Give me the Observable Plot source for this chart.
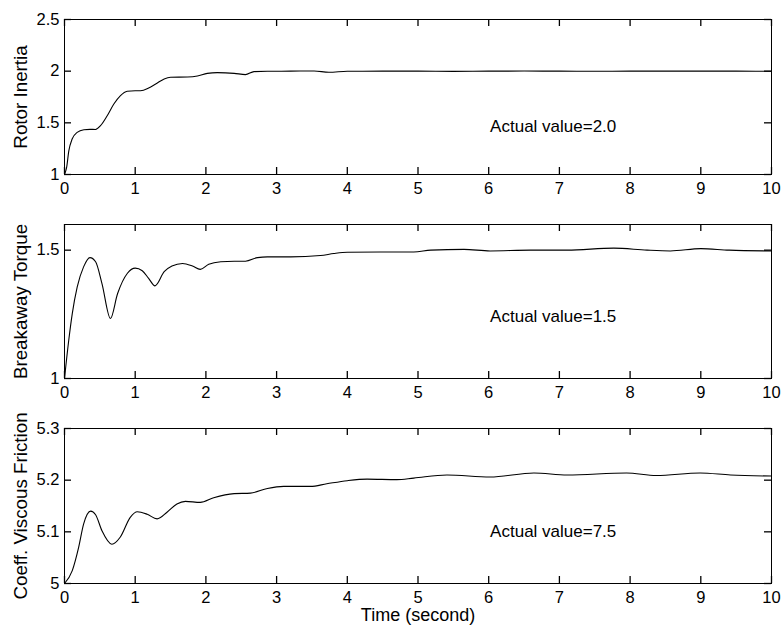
<!DOCTYPE html>
<html>
<head>
<meta charset="utf-8">
<script src="https://cdn.jsdelivr.net/npm/d3@7"></script>
<script src="https://cdn.jsdelivr.net/npm/@observablehq/plot@0.6"></script>
<style>
  html, body { margin: 0; padding: 0; background: #fff; }
  #chart svg { display: block; }
</style>
</head>
<body>
<div id="chart"></div>
<script>
// ---- Data ----
const xTicks = [0, 1, 2, 3, 4, 5, 6, 7, 8, 9, 10];

// Panel 1: Rotor Inertia
const t1 = [0, 0.03, 0.061, 0.108, 0.179, 0.274, 0.36, 0.439, 0.509, 0.604, 0.698, 0.792, 0.887, 1.0, 1.075, 1.19, 1.29, 1.41, 1.5, 1.74, 1.88, 2.02, 2.16, 2.4, 2.56, 2.68, 2.87, 3.2, 3.53, 3.74, 4.0, 4.5, 5.0, 5.5, 6.0, 6.5, 7.0, 7.5, 8.0, 8.5, 9.0, 9.5, 10];
const v1 = [1.0, 1.068, 1.229, 1.343, 1.407, 1.433, 1.437, 1.436, 1.472, 1.569, 1.682, 1.763, 1.805, 1.811, 1.811, 1.837, 1.876, 1.925, 1.941, 1.944, 1.954, 1.979, 1.986, 1.979, 1.967, 1.996, 1.999, 2.0, 2.002, 1.989, 1.999, 2.0, 2.0, 1.998, 2.0, 2.001, 2.0, 1.999, 2.0, 2.0, 2.0, 2.0, 1.999];
const yTicks1 = [1, 1.5, 2, 2.5];

// Panel 2: Breakaway Torque
const t2 = [0, 0.06, 0.11, 0.18, 0.27, 0.36, 0.44, 0.53, 0.65, 0.75, 0.89, 1.0, 1.1, 1.19, 1.28, 1.41, 1.52, 1.67, 1.81, 1.92, 2.04, 2.21, 2.4, 2.56, 2.73, 2.87, 3.2, 3.62, 3.81, 4.0, 4.47, 4.94, 5.18, 5.65, 6.02, 6.59, 7.11, 7.77, 8.24, 8.57, 9.0, 9.4, 10];
const v2 = [1.0, 1.149, 1.253, 1.357, 1.435, 1.471, 1.455, 1.37, 1.234, 1.33, 1.41, 1.43, 1.42, 1.39, 1.361, 1.416, 1.438, 1.448, 1.438, 1.425, 1.445, 1.455, 1.457, 1.457, 1.471, 1.474, 1.474, 1.479, 1.487, 1.492, 1.493, 1.493, 1.5, 1.503, 1.497, 1.5, 1.5, 1.508, 1.5, 1.497, 1.506, 1.5, 1.497];
const yTicks2 = [1, 1.5];

// Panel 3: Coeff. Viscous Friction
const t3 = [0, 0.11, 0.2, 0.27, 0.37, 0.44, 0.53, 0.67, 0.79, 0.93, 1.03, 1.17, 1.31, 1.45, 1.59, 1.71, 1.92, 2.11, 2.4, 2.63, 2.87, 3.1, 3.48, 3.71, 4.0, 4.28, 4.7, 4.94, 5.41, 6.02, 6.64, 7.11, 7.95, 8.37, 8.99, 9.42, 10];
const v3 = [5.0, 5.025, 5.07, 5.115, 5.14, 5.133, 5.102, 5.076, 5.09, 5.128, 5.139, 5.134, 5.125, 5.138, 5.154, 5.159, 5.157, 5.166, 5.174, 5.175, 5.184, 5.188, 5.188, 5.193, 5.199, 5.202, 5.201, 5.204, 5.21, 5.206, 5.214, 5.21, 5.214, 5.209, 5.214, 5.21, 5.208];
const yTicks3 = [5, 5.1, 5.2, 5.3];

const panels = [
  {t: t1, v: v1, domain: [1, 2.5], ticks: yTicks1, ylabel: "Rotor Inertia", note: "Actual value=2.0", noteY: 1.465, fmt: d => String(d)},
  {t: t2, v: v2, domain: [1, 1.6], ticks: yTicks2, ylabel: "Breakaway Torque", note: "Actual value=1.5", noteY: 1.24, fmt: d => String(d)},
  {t: t3, v: v3, domain: [5, 5.3], ticks: yTicks3, ylabel: "Coeff. Viscous Friction", note: "Actual value=7.5", noteY: 5.10, fmt: d => d3.format(".1f")(d).replace(/^5\.0$/, "5")}
];
const xDomain = [0, 10];
const noteX = 6.02;
const xLabel = "Time (second)";

const FONT = "'Liberation Sans', Arial, Helvetica, sans-serif";
const TICK_FS = 16.5;
const NOTE_FS = 17;
const YLABEL_FS = 18.8;
const XLABEL_FS = 18;
const TICK_LEN = 7;
const W = 784, ML = 64, MR = 13, MT = 19;
const heights = [205, 204, 222];
const bottoms = [31, 31, 48];

const chart = document.getElementById("chart");
panels.forEach((p, i) => {
  const data = p.t.map((t, j) => ({t, v: p.v[j]}));
  const innerH = heights[i] - MT - bottoms[i];
  const innerW = W - ML - MR;
  const [y0, y1] = p.domain;
  const [x0, x1] = xDomain;
  // tick length expressed in data units (pixel length / pixels-per-unit)
  const dyT = (y1 - y0) * TICK_LEN / innerH;
  const dxT = (x1 - x0) * TICK_LEN / innerW;
  const tickStyle = {stroke: "black", strokeWidth: 1.3};
  const marks = [
    Plot.line(data, {x: "t", y: "v", stroke: "black", strokeWidth: 1.1, curve: "monotone-x"}),
    // tick labels
    Plot.axisX({anchor: "bottom", ticks: xTicks, tickSize: 0, tickPadding: 8, tickFormat: d => String(d), fontSize: TICK_FS, label: null}),
    Plot.axisY({anchor: "left", ticks: p.ticks, tickSize: 0, tickPadding: 5, tickFormat: p.fmt, fontSize: TICK_FS, label: null}),
    Plot.frame({stroke: "black", strokeWidth: 1}),
    // inward tick marks on all four sides
    Plot.ruleX(xTicks, {x: d => d, y1: y0, y2: y0 + dyT, ...tickStyle}),
    Plot.ruleX(xTicks, {x: d => d, y1: y1 - dyT, y2: y1, ...tickStyle}),
    Plot.ruleY(p.ticks, {y: d => d, x1: x0, x2: x0 + dxT, ...tickStyle}),
    Plot.ruleY(p.ticks, {y: d => d, x1: x1 - dxT, x2: x1, ...tickStyle}),
    Plot.text([p.ylabel], {text: d => d, frameAnchor: "left", textAnchor: "middle", lineAnchor: "middle", rotate: -90, dx: -44, fontSize: YLABEL_FS, fill: "black"}),
    Plot.text([p.note], {text: d => d, x: noteX, y: p.noteY, textAnchor: "start", fontSize: NOTE_FS, fill: "black"})
  ];
  if (i === 2) {
    marks.push(Plot.text([xLabel], {text: d => d, frameAnchor: "bottom", textAnchor: "middle", lineAnchor: "middle", dy: 32, fontSize: XLABEL_FS, fill: "black"}));
  }
  const svg = Plot.plot({
    width: W,
    height: heights[i],
    marginLeft: ML,
    marginRight: MR,
    marginTop: MT,
    marginBottom: bottoms[i],
    style: {fontFamily: FONT, fontSize: TICK_FS + "px", color: "black", background: "white", overflow: "visible"},
    x: {domain: xDomain},
    y: {domain: p.domain},
    marks
  });
  chart.appendChild(svg);
});
</script>
</body>
</html>
